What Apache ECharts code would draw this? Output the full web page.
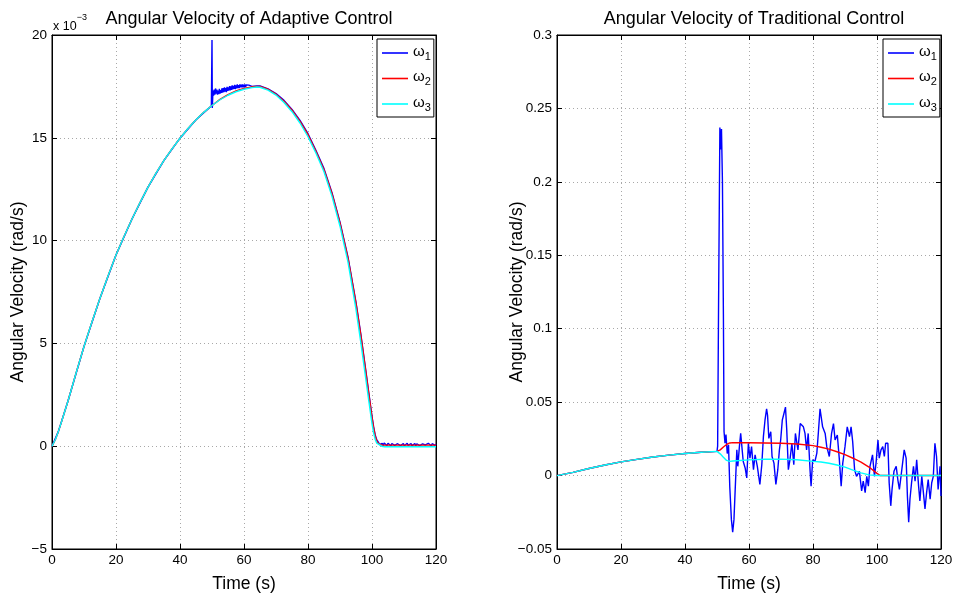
<!DOCTYPE html>
<html>
<head>
<meta charset="utf-8">
<script src="https://cdn.jsdelivr.net/npm/echarts@6/dist/echarts.min.js"></script>
<style>html,body{margin:0;padding:0;background:#fff}#c{width:957px;height:598px}</style>
</head>
<body>
<div id="c"></div>
<script>
// ---------- Data ----------
const seriesNames = ['ω1', 'ω2', 'ω3'];
const xTicks = [0, 20, 40, 60, 80, 100, 120];
const leftYTicks = [-5, 0, 5, 10, 15, 20];       // x 10^-3
const rightYTicks = [-0.05, 0, 0.05, 0.1, 0.15, 0.2, 0.25, 0.3];

// Left (adaptive), values in units of 1e-3 rad/s
const leftTime = [0, 1, 2, 3, 4, 5, 7.5, 10, 12.5, 15, 17.5, 20, 22.5, 25, 27.5, 30, 32.5, 35, 37.5, 40, 42.5, 45, 47.5, 50, 52.5, 55, 57.5, 60, 62.5, 64, 65, 67.5, 70, 72.5, 75, 77.5, 80, 82.5, 85, 87.5, 90, 92.5, 95, 96.5, 98, 99, 100, 100.5, 101, 101.5, 102, 103, 104, 106, 110, 115, 120];
const leftW3 = [0, 0.3, 0.72, 1.2, 1.7, 2.2, 3.55, 4.85, 6.05, 7.2, 8.28, 9.3, 10.2, 11.05, 11.85, 12.6, 13.28, 13.9, 14.46, 14.98, 15.45, 15.88, 16.25, 16.57, 16.85, 17.07, 17.24, 17.36, 17.44, 17.47, 17.46, 17.32, 17.08, 16.72, 16.27, 15.72, 15.05, 14.25, 13.35, 12.15, 10.7, 8.95, 6.65, 5.05, 3.35, 2.2, 1.1, 0.65, 0.33, 0.15, 0.06, 0.0, -0.03, -0.03, -0.03, -0.03, -0.03];
const leftW2 = [0, 0.3, 0.72, 1.2, 1.7, 2.2, 3.55, 4.85, 6.05, 7.2, 8.28, 9.3, 10.2, 11.05, 11.85, 12.6, 13.28, 13.9, 14.46, 14.98, 15.45, 15.88, 16.25, 16.57, 16.87, 17.1, 17.28, 17.4, 17.48, 17.5, 17.5, 17.36, 17.12, 16.78, 16.34, 15.8, 15.15, 14.33, 13.45, 12.28, 10.85, 9.15, 6.95, 5.4, 3.7, 2.55, 1.4, 0.9, 0.5, 0.25, 0.12, 0.06, 0.05, 0.05, 0.05, 0.05, 0.05];
const leftW1Time = [0, 2, 5, 10, 15, 20, 25, 30, 35, 40, 45, 49.8, 49.9, 50.0, 50.1,
  50.3, 50.5, 50.7, 50.9, 51.1, 51.3, 51.5, 51.7, 51.9, 52.1, 52.3, 52.5, 52.7, 52.9, 53.1, 53.3, 53.5, 53.7, 53.9, 54.1,
  54.3, 54.5, 54.7, 54.9, 55.1, 55.3, 55.5, 55.7, 55.9, 56.1, 56.3, 56.5, 56.7, 56.9, 57.1, 57.3, 57.5, 57.7, 57.9, 58.1,
  58.3, 58.5, 58.7, 58.9, 59.1, 59.3, 59.5, 59.7, 59.9, 60.1, 60.3, 60.5, 60.7, 60.9, 61.1, 61.3, 61.5, 61.7, 61.9,
  62.5, 64, 65, 67.5, 70, 72.5, 75, 77.5, 80, 82.5, 85, 87.5, 90, 92.5, 95, 96.5, 98, 99, 100, 100.5, 101, 101.5, 102,
  102.3, 102.6, 102.9, 103.2, 103.5, 103.8, 104.1, 104.4, 104.7, 105, 105.3, 105.6, 105.9, 106.2, 106.5, 106.8, 107.1, 107.4, 107.7, 108,
  108.3, 108.6, 108.9, 109.2, 109.5, 109.8, 110.1, 110.4, 110.7, 111, 111.3, 111.6, 111.9, 112.2, 112.5, 112.8, 113.1, 113.4, 113.7, 114,
  114.3, 114.6, 114.9, 115.2, 115.5, 115.8, 116.1, 116.4, 116.7, 117, 117.3, 117.6, 117.9, 118.2, 118.5, 118.8, 119.1, 119.4, 119.7, 120];
const leftW1 = [0, 0.72, 2.2, 4.85, 7.2, 9.3, 11.05, 12.6, 13.9, 14.98, 15.88, 16.55, 16.6, 19.76, 16.45,
  17.3, 17.05, 17.35, 17.1, 17.4, 17.15, 17.35, 17.1, 17.3, 17.12, 17.38, 17.15, 17.32, 17.18, 17.4, 17.2, 17.42, 17.22, 17.45, 17.25,
  17.42, 17.22, 17.48, 17.28, 17.45, 17.3, 17.52, 17.3, 17.5, 17.33, 17.55, 17.35, 17.52, 17.38, 17.58, 17.37, 17.55, 17.4, 17.6, 17.42,
  17.56, 17.42, 17.6, 17.45, 17.58, 17.45, 17.6, 17.46, 17.58, 17.46, 17.6, 17.47, 17.57, 17.48, 17.58, 17.48, 17.56, 17.49, 17.55,
  17.5, 17.52, 17.52, 17.38, 17.15, 16.82, 16.38, 15.85, 15.2, 14.38, 13.5, 12.33, 10.9, 9.2, 7.0, 5.45, 3.75, 2.6, 1.45, 0.95, 0.55, 0.3, 0.2,
  0.08, 0.16, 0.06, 0.14, 0.04, 0.15, 0.07, 0.13, 0.03, 0.14, 0.06, 0.12, 0.02, 0.13, 0.07, 0.15, 0.04, 0.11, 0.02, 0.12,
  0.06, 0.14, 0.03, 0.12, 0.07, 0.13, 0.02, 0.11, 0.05, 0.14, 0.04, 0.12, 0.07, 0.13, 0.03, 0.1, 0.05, 0.13, 0.02, 0.12,
  0.06, 0.14, 0.03, 0.12, 0.05, 0.11, 0.02, 0.13, 0.06, 0.12, 0.03, 0.14, 0.05, 0.11, 0.02, 0.12, 0.06, 0.13, 0.04, 0.1];

// Right (traditional), values in rad/s
const rightTime = [0, 5, 10, 15, 20, 25, 30, 35, 40, 45, 50, 51, 52, 53, 54, 55, 60, 65, 70, 75, 80, 82.5, 85, 87.5, 90, 92.5, 95, 97.5, 100, 101, 105, 110, 115, 120];
const rightW2 = [0, 0.0022, 0.00485, 0.0072, 0.0093, 0.011, 0.0126, 0.0139, 0.015, 0.0159, 0.0165, 0.0175, 0.0195, 0.0212, 0.0222, 0.0224, 0.0223, 0.0222, 0.022, 0.0215, 0.0204, 0.0193, 0.018, 0.0162, 0.0142, 0.0118, 0.0092, 0.0058, 0.0015, 0, 0, 0, 0, 0];
const rightW3 = [0, 0.0022, 0.00485, 0.0072, 0.0093, 0.011, 0.0126, 0.0139, 0.015, 0.0159, 0.0165, 0.0148, 0.0125, 0.0103, 0.0097, 0.0099, 0.0107, 0.0111, 0.0112, 0.0108, 0.0097, 0.0092, 0.0084, 0.0072, 0.0058, 0.0037, 0.0018, 0.0005, 0, 0, 0, 0, 0, 0];
const rightW1Time = [0, 5, 10, 15, 20, 25, 30, 35, 40, 45, 50,
  50.2, 50.5, 50.9, 51.15, 51.4, 51.7, 52.0, 52.2, 52.5, 52.8, 53.2, 53.6, 54.0, 54.5, 54.9, 55.3, 55.6, 56.2, 56.5, 57.0,
  57.4, 57.8, 58.2, 58.8, 59.3, 59.8, 60.3, 60.8, 61.4, 61.9, 62.6, 63.4, 64.0, 64.5, 65.0, 65.5, 65.8, 66.2, 66.8, 67.2,
  67.8, 68.4, 69.0, 69.5, 69.9, 70.4, 70.9, 71.4, 71.8, 72.3, 72.8, 73.4, 74.0, 74.5, 74.9, 75.3, 76.0, 76.6, 77.0, 77.5,
  78.0, 78.5, 79.1, 79.4, 79.9, 80.6, 81.2, 81.7, 82.2, 83.0, 83.8, 84.3, 85.1, 85.8, 86.4, 86.9, 87.6, 88.2, 88.8, 89.3,
  90.0, 90.7, 91.4, 91.9, 92.4, 93.0, 93.6, 94.5, 95.2, 95.7, 96.3, 96.8, 97.3, 97.8, 98.6, 99.2, 99.7, 100.3, 100.7, 101.25,
  101.8, 102.3, 102.7, 103.4, 103.8, 104.3, 104.7, 105.3, 106.0, 106.5, 107.0, 107.5, 108.0, 108.5, 109.1, 109.5, 109.9, 110.3, 110.8, 111.4,
  111.9, 112.4, 113.0, 113.4, 114.0, 114.5, 115.0, 115.5, 116.0, 116.6, 117.1, 117.6, 118.1, 118.6, 119.1, 119.7, 120];
const rightW1 = [0, 0.0022, 0.00485, 0.0072, 0.0093, 0.011, 0.0126, 0.0139, 0.015, 0.0159, 0.0165,
  0.02, 0.12, 0.237, 0.222, 0.236, 0.2, 0.11, 0.03, 0.022, 0.028, 0.015, 0.021, -0.008, -0.03, -0.0385, -0.03, -0.014, 0.0175, 0.0063, 0.0197,
  0.0287, 0.0298, 0.0096, 0.0052, -0.0016, 0.022, 0.0119, 0.0197, 0.004, 0.0141, 0.0063, -0.006, 0.0074, 0.0265, 0.0377, 0.0455, 0.041, 0.0253, 0.0298, 0.013,
  0.0085, -0.006, 0.004, 0.0175, 0.0242, 0.0377, 0.0421, 0.0466, 0.031, 0.004, 0.0108, 0.022, 0.0074, 0.0287, 0.0276, 0.0175, 0.0354, 0.0365, 0.0332, 0.0287,
  0.0175, 0.0287, 0.0029, -0.0072, 0.0108, 0.0096, 0.0153, 0.03, 0.0455, 0.0332, 0.0287, 0.0197, 0.013, 0.0287, 0.0354, 0.0242, 0.0276, 0.0119, -0.0072, 0.0085,
  0.0197, 0.0332, 0.0265, 0.0332, 0.0231, 0.004, -0.0005, 0.0029, -0.0105, -0.0038, -0.0116, -0.0005, -0.0072, 0.0063, 0.0141, -0.0005, 0.0085, 0.0242, 0.0119, 0.0175,
  0.0197, 0.013, 0.022, 0.022, -0.0049, -0.0206, -0.0094, 0.0029, 0.0063, -0.0027, -0.0094, -0.0005, 0.0085, 0.0175, 0.0119, -0.0139, -0.0318, -0.0161, -0.0049, 0.0063,
  -0.0038, 0.0108, -0.0072, -0.0172, -0.0005, -0.0116, -0.0228, -0.0116, -0.0027, -0.0161, -0.0049, -0.0005, 0.022, 0.013, -0.0094, 0.0063, -0.0139];

// ---------- Chart ----------
const FONT = 'Liberation Sans, Arial, Helvetica, sans-serif';
const colors = ['#0000ff', '#ff0000', '#00ffff'];
const zip = (a, b) => a.map((t, i) => [t, b[i]]);
const fmtNum = v => {
  const s = String(Math.round(v * 1000) / 1000);
  return s.charAt(0) === '-' ? '\u2212' + s.slice(1) : s;
};
const axLine = {show: true, onZero: false, lineStyle: {color: '#000', width: 1}};
const axTick = {show: true, inside: true, length: 5, lineStyle: {color: '#000'}};
const grLine = {show: true, lineStyle: {color: '#a8a8a8', type: [1, 3], width: 1}};

function xAxes(grid) {
  const base = {gridIndex: grid, type: 'value', min: xTicks[0], max: xTicks[xTicks.length - 1], interval: xTicks[1] - xTicks[0]};
  return [
    Object.assign({}, base, {
      position: 'bottom',
      name: 'Time (s)', nameLocation: 'middle', nameGap: 26, nameMoveOverlap: false,
      nameTextStyle: {fontFamily: FONT, fontSize: 17.5, color: '#000'},
      axisLine: axLine, axisTick: axTick,
      axisLabel: {fontFamily: FONT, fontSize: 13.5, color: '#000', margin: 4, formatter: fmtNum},
      splitLine: grLine
    }),
    Object.assign({}, base, {
      position: 'top', axisLine: axLine, axisTick: axTick,
      axisLabel: {show: false}, splitLine: {show: false}
    })
  ];
}
function yAxes(grid, ticks, nameGap) {
  const base = {gridIndex: grid, type: 'value', min: ticks[0], max: ticks[ticks.length - 1], interval: Math.round((ticks[1] - ticks[0]) * 1000) / 1000};
  return [
    Object.assign({}, base, {
      position: 'left',
      name: 'Angular Velocity (rad/s)', nameLocation: 'middle', nameGap: nameGap, nameMoveOverlap: false,
      nameTextStyle: {fontFamily: FONT, fontSize: 17.5, color: '#000'},
      axisLine: axLine, axisTick: axTick,
      axisLabel: {fontFamily: FONT, fontSize: 13.5, color: '#000', margin: 5, formatter: fmtNum},
      splitLine: grLine
    }),
    Object.assign({}, base, {
      position: 'right', axisLine: axLine, axisTick: axTick,
      axisLabel: {show: false}, splitLine: {show: false}
    })
  ];
}

function mkSeries(name, idx, data, color, z) {
  return {
    name: name, type: 'line', xAxisIndex: idx, yAxisIndex: idx, data: data,
    symbol: 'none', showSymbol: false, smooth: false, animation: false, z: z,
    lineStyle: {color: color, width: 1.4}, itemStyle: {color: color}
  };
}

function legendFor(left) {
  return {
    data: seriesNames, orient: 'vertical', left: left, top: 39,
    backgroundColor: '#fff', borderColor: '#000', borderWidth: 1,
    padding: [5, 3, 4, 5], itemGap: 7.5, itemWidth: 26, itemHeight: 1.6,
    icon: 'rect',
    selectedMode: false,
    formatter: n => '{w|\u03c9}{s|' + n.slice(1) + '}',
    textStyle: {
      color: '#000', fontFamily: FONT,
      rich: {
        w: {fontFamily: FONT, fontSize: 15, lineHeight: 18, verticalAlign: 'top', color: '#000'},
        s: {fontFamily: FONT, fontSize: 11, lineHeight: 12, verticalAlign: 'bottom', color: '#000'}
      },
      lineHeight: 22
    }
  };
}

const chart = echarts.init(document.getElementById('c'), null, {renderer: 'canvas'});
chart.setOption({
  animation: false,
  backgroundColor: '#fff',
  title: [
    {text: 'Angular Velocity of Adaptive Control', left: 244, top: 5, textAlign: 'center',
     textStyle: {fontFamily: FONT, fontSize: 18, fontWeight: 'normal', color: '#000'}},
    {text: 'Angular Velocity of Traditional Control', left: 749, top: 5, textAlign: 'center',
     textStyle: {fontFamily: FONT, fontSize: 18, fontWeight: 'normal', color: '#000'}}
  ],
  grid: [
    {left: 52, right: 521, top: 35, bottom: 43, show: true, borderColor: '#000', borderWidth: 1, backgroundColor: '#fff'},
    {left: 557, right: 16, top: 35, bottom: 43, show: true, borderColor: '#000', borderWidth: 1, backgroundColor: '#fff'}
  ],
  xAxis: xAxes(0).concat(xAxes(1)),
  yAxis: yAxes(0, leftYTicks, 25).concat(yAxes(1, rightYTicks, 31)),
  legend: [legendFor(377), legendFor(883)],
  graphic: [{
    type: 'text', left: 53, top: 13, silent: true,
    style: {
      text: '{a|x 10}{b|\u22123}', fill: '#000',
      rich: {
        a: {fontFamily: FONT, fontSize: 12.5, lineHeight: 20, verticalAlign: 'bottom'},
        b: {fontFamily: FONT, fontSize: 9, lineHeight: 12, verticalAlign: 'top'}
      }
    }
  }],
  series: [
    mkSeries('ω1', 0, zip(leftW1Time, leftW1), colors[0], 2),
    mkSeries('ω2', 0, zip(leftTime, leftW2), colors[1], 3),
    mkSeries('ω3', 0, zip(leftTime, leftW3), colors[2], 4),
    mkSeries('ω1', 2, zip(rightW1Time, rightW1), colors[0], 2),
    mkSeries('ω2', 2, zip(rightTime, rightW2), colors[1], 3),
    mkSeries('ω3', 2, zip(rightTime, rightW3), colors[2], 4)
  ]
});
</script>
</body>
</html>
